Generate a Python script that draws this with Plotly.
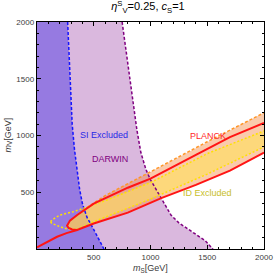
import numpy as np
import plotly.graph_objects as go

# SI excluded boundary (blue dashed)
si_ms = [270, 280, 290, 300, 310, 330, 350, 375, 400, 440, 490, 540, 590]
si_mv = [2000, 1750, 1500, 1250, 1100, 880, 700, 530, 400, 280, 190, 100, 0]

# DARWIN boundary (purple dashed)
dw_ms = [750, 790, 830, 880, 915, 960, 1000, 1075, 1180, 1250, 1380, 1480, 1550]
dw_mv = [2000, 1700, 1400, 1050, 850, 700, 610, 480, 300, 230, 140, 75, 0]

# PLANCK relic contour (red)
pl_up_ms = [265, 290, 354, 500, 800, 1000, 1400, 1700, 2000]
pl_up_mv = [205, 250, 300, 400, 540, 620, 830, 985, 1110]
pl_lo_ms = [265, 280, 310, 354, 500, 800, 1100, 1400, 1700, 2000]
pl_lo_mv = [205, 185, 172, 167, 225, 320, 450, 565, 690, 850]
pl_or_ms = [0, 100, 177, 260, 354]
pl_or_mv = [15, 65, 108, 140, 167]

# Orange dashed (upper edge of band)
or_ms = [400, 600, 1000, 1500, 2000]
or_mv = [340, 470, 680, 945, 1200]

# ID excluded contour (yellow dotted)
id_up_ms = [120, 130, 203, 321, 410, 617, 1000, 1500, 2000]
id_up_mv = [240, 255, 300, 329, 359, 432, 585, 840, 1040]
id_lo_ms = [120, 130, 203, 277, 354, 500, 1000, 1500, 2000]
id_lo_mv = [240, 226, 196, 173, 175, 240, 440, 660, 900]

xticks = [500, 1000, 1500, 2000]
yticks = [500, 1000, 1500, 2000]

fig = go.Figure()

# DARWIN region
fig.add_trace(go.Scatter(x=[0] + dw_ms + [0], y=[2000] + dw_mv + [0], fill="toself",
                         fillcolor="rgb(218,184,222)", line=dict(width=0), mode="lines",
                         hoverinfo="skip", showlegend=False))
# SI region
fig.add_trace(go.Scatter(x=[0] + si_ms + [0], y=[2000] + si_mv + [0], fill="toself",
                         fillcolor="rgb(150,122,225)", line=dict(width=0), mode="lines",
                         hoverinfo="skip", showlegend=False))

# band fills
g = np.linspace(265, 2000, 300)
rup = np.interp(g, pl_up_ms, pl_up_mv)
rlo = np.interp(g, pl_lo_ms, pl_lo_mv)
orn = np.where(g >= or_ms[0], np.interp(g, or_ms, or_mv), rup)
peach_top = np.maximum(orn, rup)
fig.add_trace(go.Scatter(x=np.concatenate([g, g[::-1]]), y=np.concatenate([peach_top, rlo[::-1]]),
                         fill="toself", fillcolor="rgba(245,140,70,0.45)", line=dict(width=0),
                         mode="lines", hoverinfo="skip", showlegend=False))
yup = np.minimum(np.interp(g, id_up_ms, id_up_mv), rup)
ylo = np.maximum(np.interp(g, id_lo_ms, id_lo_mv), rlo)
ylo = np.minimum(ylo, yup)
fig.add_trace(go.Scatter(x=np.concatenate([g, g[::-1]]), y=np.concatenate([yup, ylo[::-1]]),
                         fill="toself", fillcolor="rgba(255,225,90,0.6)", line=dict(width=0),
                         mode="lines", hoverinfo="skip", showlegend=False))

# boundary lines
fig.add_trace(go.Scatter(x=si_ms, y=si_mv, mode="lines", line=dict(color="rgb(20,20,255)", width=1.5, dash="3px,2px"),
                         hoverinfo="skip", showlegend=False))
fig.add_trace(go.Scatter(x=dw_ms, y=dw_mv, mode="lines", line=dict(color="rgb(128,0,128)", width=1.5, dash="3px,2px"),
                         hoverinfo="skip", showlegend=False))
fig.add_trace(go.Scatter(x=or_ms, y=or_mv, mode="lines", line=dict(color="rgb(255,150,40)", width=1.5, dash="3px,2px"),
                         hoverinfo="skip", showlegend=False))
fig.add_trace(go.Scatter(x=id_up_ms, y=id_up_mv, mode="lines", line=dict(color="rgb(255,225,0)", width=1.5, dash="2px,2px"),
                         hoverinfo="skip", showlegend=False))
fig.add_trace(go.Scatter(x=id_lo_ms, y=id_lo_mv, mode="lines", line=dict(color="rgb(255,225,0)", width=1.5, dash="2px,2px"),
                         hoverinfo="skip", showlegend=False))
fig.add_trace(go.Scatter(x=pl_up_ms[::-1] + pl_lo_ms[1:], y=pl_up_mv[::-1] + pl_lo_mv[1:], mode="lines",
                         line=dict(color="rgb(255,20,20)", width=2), hoverinfo="skip", showlegend=False))
fig.add_trace(go.Scatter(x=pl_or_ms, y=pl_or_mv, mode="lines",
                         line=dict(color="rgb(255,20,20)", width=2), hoverinfo="skip", showlegend=False))

lab_font = "Liberation Sans, Arial, sans-serif"
ann = [
    dict(x=593, y=1004, text="SI Excluded", font=dict(color="rgb(40,40,230)", size=9)),
    dict(x=646, y=797, text="DARWIN", font=dict(color="rgb(128,0,128)", size=9)),
    dict(x=1504, y=996, text="PLANCK", font=dict(color="rgb(255,40,40)", size=9)),
    dict(x=1504, y=493, text="ID Excluded", font=dict(color="rgb(200,190,40)", size=9)),
]
for a in ann:
    a.update(xref="x", yref="y", showarrow=False)
    a["font"]["family"] = lab_font

# axis titles as annotations (pixel placement)
ann.append(dict(xref="paper", yref="paper", x=0.5, y=0, yshift=-19, xanchor="center", yanchor="middle",
                text="<i>m</i><sub>S</sub>[GeV]", showarrow=False,
                font=dict(family=lab_font, size=9, color="rgb(60,60,60)")))
ann.append(dict(xref="paper", yref="paper", x=0, y=0.5, xshift=-29, xanchor="center", yanchor="middle",
                text="<i>m</i><sub>V</sub>[GeV]", textangle=-90, showarrow=False,
                font=dict(family=lab_font, size=9, color="rgb(60,60,60)")))

fig.update_layout(
    width=274, height=276,
    margin=dict(l=37, r=10, t=22, b=27),
    paper_bgcolor="white", plot_bgcolor="white",
    annotations=ann,
    hovermode=False,
    title=dict(text="<i>η</i><sup>S</sup><sub>V</sub>=0.25, <i>c</i><sub>S</sub>=1",
               x=0.54, xanchor="center", y=0.99, yanchor="top",
               font=dict(family=lab_font, size=11, color="black")),
    font=dict(family=lab_font, size=8, color="black"),
)
axis_common = dict(showgrid=False, zeroline=False, showline=True, linecolor="black", linewidth=1.3,
                   mirror="allticks", ticks="inside", ticklen=4, tickcolor="black", automargin=False,
                   minor=dict(ticks="inside", ticklen=2, dtick=100, tickcolor="black"),
                   tickfont=dict(size=8, color="rgb(60,60,60)"))
fig.update_xaxes(range=[0, 2000], tickvals=xticks, ticktext=[str(v) for v in xticks], **axis_common)
fig.update_yaxes(range=[0, 2000], tickvals=yticks, ticktext=[str(v) for v in yticks], **axis_common)

fig.write_html("out.html", config={"displayModeBar": False, "staticPlot": True},
               post_script="document.body.style.margin='0';document.body.style.padding='0';")
